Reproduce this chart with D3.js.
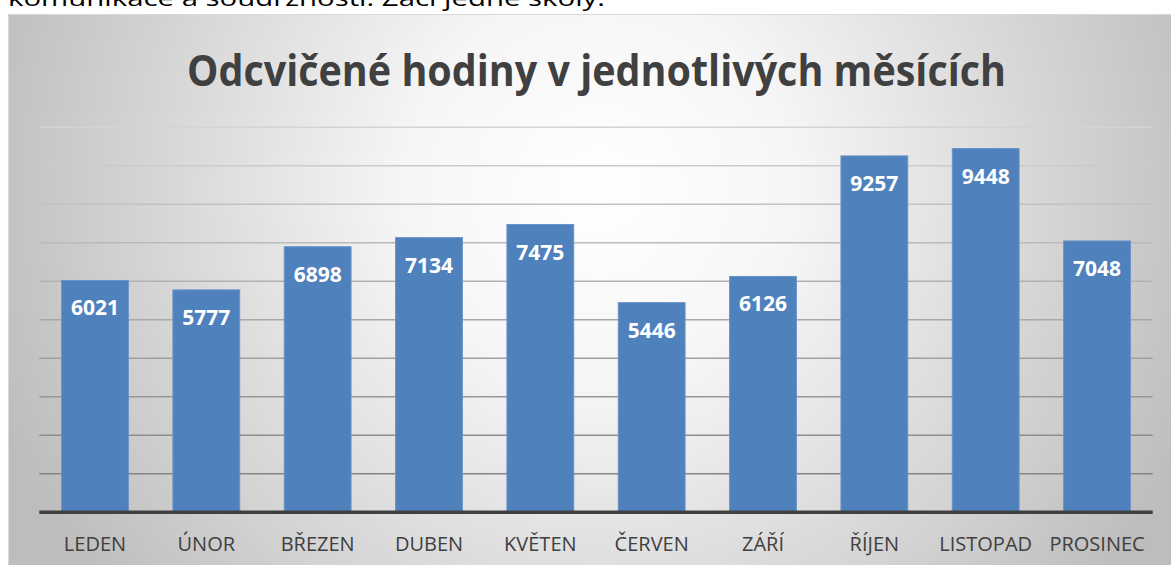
<!DOCTYPE html>
<html>
<head>
<meta charset="utf-8">
<script src="https://cdn.jsdelivr.net/npm/d3@7"></script>
<style>
  body { margin: 0; background: #ffffff; }
  svg { display: block; }
</style>
</head>
<body>
<div id="chart"></div>
<script>
const width = 1171;
const height = 565;

// data
const months = ["LEDEN", "ÚNOR", "BŘEZEN", "DUBEN", "KVĚTEN", "ČERVEN", "ZÁŘÍ", "ŘÍJEN", "LISTOPAD", "PROSINEC"];
const hours = [6021, 5777, 6898, 7134, 7475, 5446, 6126, 9257, 9448, 7048];
const yTicks = [1000, 2000, 3000, 4000, 5000, 6000, 7000, 8000, 9000, 10000];

const title = "Odcvičené hodiny v jednotlivých měsících";
const textAbove = "komunikace a soudržnosti. Žáci jedné školy.";

const svg = d3.select("#chart").append("svg")
    .attr("width", width)
    .attr("height", height);

const defs = svg.append("defs");
const grad = defs.append("radialGradient")
    .attr("id", "bg")
    .attr("gradientUnits", "userSpaceOnUse")
    .attr("cx", 600).attr("cy", 190).attr("r", 640);
grad.append("stop").attr("offset", "0").attr("stop-color", "#ffffff");
grad.append("stop").attr("offset", "0.3").attr("stop-color", "#f6f6f6");
grad.append("stop").attr("offset", "1").attr("stop-color", "#bdbdbd");

// text of the page above the chart, mostly cut off
svg.append("text")
    .attr("x", 8)
    .attr("y", 6)
    .attr("textLength", 597)
    .attr("lengthAdjust", "spacingAndGlyphs")
    .style("font-family", "'Open Sans', sans-serif")
    .style("font-size", "21px")
    .style("fill", "#000")
    .text(textAbove);

// chart area
svg.append("rect")
    .attr("x", 8.5).attr("y", 14.5)
    .attr("width", 1200).attr("height", 600)
    .attr("fill", "url(#bg)")
    .attr("stroke", "#d9d9d9")
    .attr("stroke-width", 1);

const x = d3.scaleBand()
    .domain(months)
    .range([39.3, 1152.7])
    .paddingInner(0.4)
    .paddingOuter(0.2);

const y = d3.scaleLinear()
    .domain([0, 10000])
    .range([512.3, 127.3]);

const gridColor = d3.scaleLinear()
    .domain([1000, 10000])
    .range(["#858585", "#d4d4d4"]);

svg.append("g")
    .selectAll("line")
    .data(yTicks)
    .enter()
    .append("line")
    .attr("x1", 39.3)
    .attr("x2", 1152.7)
    .attr("y1", d => y(d))
    .attr("y2", d => y(d))
    .attr("stroke", d => gridColor(d))
    .attr("stroke-width", 1.5);

// bars
svg.append("g")
    .selectAll("rect")
    .data(hours)
    .enter()
    .append("rect")
    .attr("x", (d, i) => x(months[i]))
    .attr("y", d => y(d))
    .attr("width", x.bandwidth())
    .attr("height", d => y(0) - y(d))
    .attr("fill", "#4f81bd")
    .attr("stroke", "#6a93c6")
    .attr("stroke-width", 1);

// value labels
svg.append("g")
    .selectAll("text")
    .data(hours)
    .enter()
    .append("text")
    .attr("x", (d, i) => x(months[i]) + x.bandwidth() / 2)
    .attr("y", d => y(d) + 35)
    .attr("text-anchor", "middle")
    .style("font-family", "'Open Sans', sans-serif")
    .style("font-weight", "bold")
    .style("font-size", "21px")
    .style("fill", "#ffffff")
    .text(d => d);

// x axis line
svg.append("line")
    .attr("x1", 39.3)
    .attr("x2", 1152.7)
    .attr("y1", y(0))
    .attr("y2", y(0))
    .attr("stroke", "#404040")
    .attr("stroke-width", 3.5);

// category labels
svg.append("g")
    .selectAll("text")
    .data(months)
    .enter()
    .append("text")
    .attr("x", d => x(d) + x.bandwidth() / 2)
    .attr("y", 551)
    .attr("text-anchor", "middle")
    .style("font-family", "'Open Sans', sans-serif")
    .style("font-size", "20px")
    .style("fill", "#404040")
    .text(d => d);

// title
svg.append("text")
    .attr("x", 596.5)
    .attr("y", 86)
    .attr("text-anchor", "middle")
    .attr("textLength", 819)
    .attr("lengthAdjust", "spacingAndGlyphs")
    .style("font-family", "'Open Sans', sans-serif")
    .style("font-weight", "bold")
    .style("font-size", "43px")
    .style("fill", "#404040")
    .text(title);
</script>
</body>
</html>
